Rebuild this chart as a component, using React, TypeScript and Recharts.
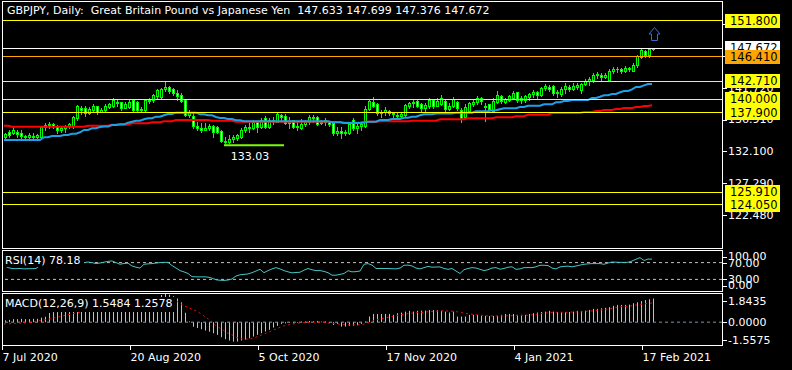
import React from "react";
import { ComposedChart, Bar, Line, XAxis, YAxis, ReferenceLine, ReferenceDot } from "recharts";

const FONT = "'DejaVu Sans', sans-serif";
const SLOTS = 180; // 163 bars + empty shift on the right

// ---- daily candles (GBPJPY) ----
const open = [
  134.2, 135.1, 134.9, 135.0, 134.9, 134.3, 134.3, 134.4, 134.3, 134.3,
  135.8, 136.1, 136.3, 135.9, 135.4, 135.6, 135.9, 135.9, 137.2, 138.7,
  138.7, 137.9, 138.4, 138.9, 138.1, 138.3, 138.8, 138.9, 139.6, 139.6,
  138.7, 138.8, 139.8, 139.5, 138.3, 138.3, 139.7, 139.8, 140.5, 140.3,
  141.5, 141.8, 141.6, 140.9, 140.6, 139.8, 137.6, 137.4, 135.9, 135.7,
  135.4, 135.6, 135.9, 135.8, 135.2, 133.7, 133.5, 134.0, 134.1, 134.3,
  135.4, 135.8, 135.7, 136.5, 135.8, 137.2, 135.8, 136.8, 136.6, 137.6,
  137.5, 136.4, 136.9, 135.8, 135.6, 136.3, 136.6, 137.1, 137.3, 136.4,
  136.6, 136.6, 136.4, 134.9, 135.2, 134.9, 134.9, 136.8, 135.6, 136.0,
  136.0, 138.5, 139.5, 139.3, 137.9, 138.1, 138.2, 137.9, 137.6, 137.4,
  137.6, 139.0, 139.4, 139.7, 139.3, 138.6, 138.9, 139.8, 138.9, 139.3,
  139.7, 138.5, 138.9, 139.6, 138.4, 137.3, 138.2, 139.3, 139.5, 140.1,
  139.0, 139.2, 138.2, 139.6, 140.5, 139.6, 139.8, 140.2, 141.0, 139.8,
  139.9, 140.3, 140.7, 141.1, 140.6, 141.7, 141.9, 142.0, 140.9, 140.8,
  141.5, 141.9, 141.6, 141.9, 141.3, 142.3, 142.7, 142.9, 143.6, 143.7,
  143.3, 142.9, 144.3, 144.6, 144.5, 144.3, 144.6, 144.3, 145.1, 146.3,
  147.3, 146.6, 147.633,
];
const high = [
  134.9, 135.4, 135.8, 135.3, 135.3, 134.6, 134.9, 134.9, 134.8, 135.9,
  136.4, 136.6, 136.4, 136.1, 135.8, 136.1, 136.4, 137.4, 139.1, 138.9,
  138.9, 138.8, 139.3, 138.9, 138.6, 139.3, 139.4, 140.1, 139.9, 139.6,
  139.5, 140.0, 139.9, 139.7, 138.8, 139.9, 140.1, 140.8, 141.5, 141.7,
  142.71, 142.0, 141.7, 141.3, 140.9, 139.9, 138.3, 137.9, 136.5, 136.4,
  136.4, 136.3, 136.1, 135.9, 135.3, 134.3, 134.6, 134.5, 134.7, 135.6,
  136.1, 136.4, 136.9, 136.5, 137.1, 137.4, 137.1, 137.3, 137.9, 137.7,
  137.7, 137.3, 136.9, 136.5, 137.0, 136.8, 137.6, 137.6, 137.4, 136.9,
  137.1, 136.7, 136.5, 135.8, 135.8, 135.3, 136.4, 137.2, 136.3, 136.6,
  138.9, 139.9, 140.3, 139.4, 138.4, 138.8, 138.4, 138.1, 137.9, 138.0,
  139.2, 139.6, 139.9, 139.8, 139.4, 139.4, 140.1, 140.0, 140.1, 140.6,
  139.8, 139.4, 140.3, 139.7, 138.6, 139.2, 139.6, 139.9, 140.5, 140.3,
  139.4, 139.3, 140.1, 141.2, 140.6, 140.2, 140.6, 141.2, 141.1, 140.4,
  140.6, 140.9, 141.3, 141.2, 141.8, 142.3, 142.2, 142.1, 141.4, 141.8,
  142.4, 142.2, 142.4, 142.4, 142.5, 143.0, 143.3, 143.9, 144.1, 143.9,
  143.9, 144.5, 144.9, 144.9, 144.7, 145.0, 144.9, 145.4, 146.7, 147.6,
  147.4, 147.7, 147.699,
];
const low = [
  133.9, 134.2, 134.8, 134.2, 134.1, 133.8, 134.0, 133.9, 134.1, 134.1,
  135.4, 135.6, 135.6, 134.9, 135.0, 135.1, 135.6, 135.7, 136.8, 137.8,
  137.5, 137.8, 138.1, 137.7, 138.0, 138.1, 138.6, 138.8, 138.9, 138.4,
  138.6, 138.6, 138.2, 138.0, 138.0, 138.1, 139.4, 139.5, 140.1, 140.1,
  141.2, 140.9, 140.6, 139.9, 139.5, 137.4, 137.3, 135.6, 135.3, 135.0,
  135.3, 135.3, 134.3, 134.9, 133.5, 133.03, 133.3, 133.5, 133.8, 134.1,
  135.0, 135.1, 135.5, 135.0, 135.7, 135.6, 135.6, 136.3, 136.5, 136.9,
  136.2, 135.6, 135.6, 135.3, 135.5, 136.0, 136.3, 136.5, 136.1, 136.2,
  136.1, 136.0, 134.6, 134.6, 134.1, 134.5, 134.8, 135.3, 134.9, 135.3,
  135.8, 138.4, 138.8, 137.6, 137.3, 137.6, 137.6, 137.3, 137.1, 137.3,
  137.5, 138.7, 138.8, 138.8, 138.2, 138.1, 138.6, 138.6, 138.9, 139.1,
  138.0, 138.3, 138.8, 138.3, 136.5, 137.2, 138.0, 139.0, 139.3, 139.2,
  136.7, 138.3, 138.0, 139.4, 139.4, 139.4, 139.7, 140.1, 139.5, 139.4,
  139.5, 139.8, 140.3, 140.2, 140.5, 141.4, 141.2, 140.6, 140.3, 140.4,
  140.9, 141.2, 141.3, 141.5, 140.9, 142.1, 142.1, 142.6, 143.2, 142.9,
  143.2, 142.7, 143.9, 144.1, 143.9, 144.1, 144.3, 144.2, 144.9, 146.2,
  146.4, 146.4, 147.376,
];
const close = [
  134.7, 134.5, 135.3, 134.7, 134.4, 134.4, 134.5, 134.3, 134.6, 135.8,
  136.1, 136.3, 135.9, 135.4, 135.6, 135.9, 136.2, 137.3, 138.9, 138.3,
  137.9, 138.5, 138.9, 138.1, 138.4, 139.0, 139.2, 139.8, 139.4, 138.6,
  139.2, 139.5, 138.4, 138.3, 138.5, 139.8, 139.9, 140.6, 141.3, 141.5,
  141.9, 141.2, 140.9, 140.4, 139.7, 137.6, 138.0, 135.9, 135.7, 135.4,
  135.6, 136.0, 135.1, 135.0, 133.7, 133.5, 134.0, 134.2, 134.5, 135.4,
  135.8, 135.7, 136.5, 135.8, 136.9, 135.8, 136.8, 136.9, 137.7, 137.3,
  136.4, 136.7, 135.8, 136.0, 136.3, 136.6, 137.3, 137.3, 136.3, 136.6,
  136.8, 136.3, 134.9, 135.2, 134.9, 135.1, 136.2, 135.6, 136.0, 136.3,
  138.5, 139.7, 139.0, 137.9, 138.1, 138.4, 137.9, 137.7, 137.4, 137.8,
  139.1, 139.4, 139.6, 139.0, 138.6, 139.1, 139.8, 138.9, 139.7, 140.1,
  138.5, 139.0, 140.0, 138.6, 137.2, 138.8, 139.4, 139.6, 140.2, 139.7,
  138.8, 138.5, 139.7, 140.6, 139.7, 140.0, 140.4, 140.9, 139.8, 140.1,
  140.4, 140.7, 141.1, 140.6, 141.7, 142.0, 141.5, 140.9, 141.1, 141.5,
  142.0, 141.6, 142.0, 142.2, 142.3, 142.7, 143.0, 143.6, 143.8, 143.3,
  143.6, 144.3, 144.6, 144.5, 144.3, 144.7, 144.7, 145.2, 146.5, 147.4,
  146.7, 147.6, 147.672,
];

// ---- moving averages (blue / red) ----
const maFast = [
  133.82, 133.82, 133.82, 133.82, 133.82, 133.82, 133.82, 133.82, 133.82, 133.82,
  134.23, 134.23, 134.43, 134.43, 134.43, 134.58, 134.58, 134.77, 134.77, 134.98,
  135.33, 135.33, 135.59, 135.59, 135.78, 135.86, 135.86, 136.09, 136.09, 136.19,
  136.19, 136.43, 136.58, 136.74, 136.74, 136.95, 137.10, 137.10, 137.34, 137.34,
  137.55, 137.75, 137.75, 137.95, 137.95, 137.95, 137.95, 137.95, 137.95, 137.70,
  137.70, 137.55, 137.55, 137.30, 137.14, 137.14, 136.99, 136.99, 136.80, 136.80,
  136.65, 136.65, 136.65, 136.65, 136.65, 136.65, 136.65, 136.65, 136.65, 136.65,
  136.65, 136.65, 136.65, 136.65, 136.65, 136.65, 136.65, 136.65, 136.65, 136.65,
  136.65, 136.65, 136.49, 136.49, 136.49, 136.39, 136.39, 136.39, 136.39, 136.39,
  136.46, 136.58, 136.58, 136.58, 136.84, 136.84, 136.84, 136.99, 136.99, 136.99,
  137.19, 137.19, 137.34, 137.34, 137.55, 137.70, 137.70, 137.70, 137.82, 137.82,
  137.82, 137.82, 137.82, 137.95, 137.95, 137.95, 137.95, 137.95, 138.16, 138.16,
  138.16, 138.16, 138.31, 138.31, 138.46, 138.61, 138.61, 138.61, 138.61, 138.81,
  138.81, 139.00, 139.00, 139.00, 139.00, 139.21, 139.21, 139.21, 139.52, 139.52,
  139.71, 139.71, 139.86, 139.86, 139.86, 139.86, 139.86, 140.17, 140.17, 140.36,
  140.57, 140.57, 140.77, 140.77, 141.03, 141.22, 141.22, 141.48, 141.83, 141.83,
  142.08, 142.28, 142.28,
];
const maSlow = [
  135.98, 135.98, 135.83, 135.83, 135.83, 135.83, 135.83, 135.83, 135.83, 135.83,
  135.83, 135.83, 135.83, 135.83, 135.83, 135.83, 135.83, 135.83, 135.83, 135.83,
  135.83, 135.98, 135.98, 135.98, 135.98, 135.98, 135.98, 136.13, 136.13, 136.13,
  136.13, 136.13, 136.34, 136.34, 136.34, 136.34, 136.34, 136.49, 136.49, 136.49,
  136.65, 136.65, 136.65, 136.84, 136.84, 136.84, 136.84, 136.84, 136.84, 136.84,
  136.84, 136.84, 136.74, 136.74, 136.74, 136.74, 136.74, 136.74, 136.59, 136.59,
  136.59, 136.59, 136.59, 136.59, 136.59, 136.59, 136.59, 136.59, 136.59, 136.59,
  136.59, 136.59, 136.59, 136.59, 136.59, 136.59, 136.59, 136.59, 136.59, 136.59,
  136.59, 136.59, 136.54, 136.54, 136.54, 136.43, 136.43, 136.43, 136.43, 136.43,
  136.59, 136.59, 136.59, 136.59, 136.65, 136.65, 136.65, 136.65, 136.65, 136.65,
  136.65, 136.65, 136.74, 136.74, 136.74, 136.74, 136.74, 136.74, 136.74, 136.95,
  136.95, 136.95, 136.95, 136.95, 136.95, 136.95, 137.10, 137.10, 137.10, 137.10,
  137.10, 137.10, 137.10, 137.25, 137.25, 137.25, 137.25, 137.25, 137.40, 137.40,
  137.40, 137.65, 137.65, 137.65, 137.65, 137.65, 137.65, 137.90, 137.90, 137.90,
  137.90, 137.90, 137.90, 137.90, 137.90, 138.05, 138.05, 138.05, 138.20, 138.20,
  138.35, 138.35, 138.35, 138.50, 138.50, 138.66, 138.66, 138.66, 138.81, 138.81,
  138.96, 138.96, 139.06,
];

// ---- RSI(14) ----
const rsi = [
  63.6, 58, 56, 55.5, 56, 55, 55.5, 55.5, 56, 63,
  67, 69, 66, 60, 62, 64, 66, 72, 78, 74,
  70, 71.4, 70, 67.6, 69, 71, 73, 74, 70, 66,
  68, 68.5, 62, 59, 57, 66, 67, 67.6, 69, 70,
  70.7, 70.5, 63, 57, 51, 47.9, 44, 36.5, 36.1, 36,
  36.2, 35.4, 33, 29, 28, 27.6, 28.5, 31, 38, 41,
  42, 43, 46, 50, 54, 46, 51, 55, 58, 55,
  51, 48, 45.6, 46.5, 47, 52, 55.9, 53, 51, 51,
  49, 46, 40, 40, 42, 44, 50.7, 48, 48.5, 50,
  66, 67.6, 64, 56, 56, 56, 55.9, 55.5, 55, 57,
  63.6, 64, 62, 57, 55, 58, 61, 59, 59.5, 59.7,
  56, 54, 55.9, 50, 44.1, 53, 56, 58, 57, 54,
  51, 53, 57, 58, 54.2, 56, 59, 60, 54, 55,
  58, 58, 58, 60, 63.6, 63.6, 63, 57, 55, 59.7,
  61, 61.5, 60, 62, 64, 66, 67, 67.6, 67.6, 67.6,
  66, 69, 71.4, 71, 70.5, 70.5, 70.7, 73.8, 78, 81.8,
  75, 78.5, 78.18,
];

// ---- MACD(12,26,9): main (histogram) and signal ----
const macd = [
  0.12, 0.15, 0.2, 0.2, 0.22, 0.2, 0.2, 0.22, 0.22, 0.3,
  0.35, 0.6, 0.66, 0.66, 0.68, 0.7, 0.75, 0.95, 1.25, 1.35,
  1.38, 1.42, 1.48, 1.45, 1.45, 1.5, 1.55, 1.62, 1.64, 1.55,
  1.52, 1.52, 1.4, 1.28, 1.2, 1.3, 1.38, 1.5, 1.65, 1.78,
  1.8435, 1.8, 1.7, 1.55, 1.3, 0.62, 0.05, -0.3, -0.38, -0.46,
  -0.55, -0.62, -0.72, -0.83, -0.98, -1.11, -1.2, -1.27, -1.27, -1.2,
  -1.14, -1.05, -0.94, -0.83, -0.72, -0.61, -0.5, -0.35, -0.24, -0.11,
  -0.08, -0.04, -0.08, -0.04, 0.04, 0.04, 0.08, 0.06, 0.08, 0.04,
  0.04, -0.06, -0.18, -0.11, -0.29, -0.29, -0.24, -0.24, -0.2, -0.11,
  0.04, 0.37, 0.54, 0.54, 0.54, 0.54, 0.54, 0.48, 0.59, 0.63,
  0.69, 0.74, 0.69, 0.74, 0.76, 0.76, 0.8, 0.8, 0.78, 0.74,
  0.69, 0.63, 0.69, 0.37, 0.37, 0.37, 0.48, 0.48, 0.48, 0.41,
  0.41, 0.41, 0.41, 0.41, 0.48, 0.54, 0.54, 0.54, 0.48, 0.48,
  0.48, 0.54, 0.59, 0.63, 0.67, 0.69, 0.74, 0.69, 0.67, 0.65,
  0.65, 0.67, 0.69, 0.74, 0.74, 0.76, 0.8, 0.87, 0.87, 0.91,
  0.94, 0.98, 1.07, 1.13, 1.13, 1.13, 1.15, 1.24, 1.3, 1.38,
  1.45, 1.5, 1.5484,
];
const signal = [
  -0.11, -0.1, -0.09, -0.07, -0.06, -0.05, -0.04, 0, 0.05, 0.11,
  0.15, 0.19, 0.25, 0.3, 0.37, 0.43, 0.49, 0.54, 0.6, 0.65,
  0.7, 0.74, 0.82, 0.9, 0.97, 1.03, 1.09, 1.15, 1.2, 1.25,
  1.29, 1.32, 1.34, 1.35, 1.34, 1.33, 1.34, 1.36, 1.39, 1.43,
  1.46, 1.48, 1.45, 1.38, 1.25, 1.07, 0.98, 0.85, 0.74, 0.59,
  0.41, 0.22, 0.04, -0.24, -0.39, -0.55, -0.72, -0.83, -0.98, -1.07,
  -1.11, -1.11, -1.07, -0.98, -0.87, -0.77, -0.68, -0.55, -0.44, -0.33,
  -0.24, -0.18, -0.13, -0.09, -0.05, -0.03, -0.02, -0.01, 0, 0,
  -0.02, -0.05, -0.08, -0.1, -0.13, -0.15, -0.17, -0.18, -0.18, -0.17,
  -0.13, -0.05, 0.05, 0.15, 0.2, 0.26, 0.31, 0.37, 0.42, 0.48,
  0.52, 0.56, 0.59, 0.62, 0.64, 0.65, 0.68, 0.7, 0.72, 0.74,
  0.74, 0.73, 0.72, 0.69, 0.65, 0.59, 0.55, 0.52, 0.48, 0.46,
  0.44, 0.41, 0.41, 0.41, 0.41, 0.41, 0.42, 0.43, 0.44, 0.44,
  0.45, 0.46, 0.48, 0.52, 0.55, 0.59, 0.61, 0.63, 0.65, 0.65,
  0.65, 0.65, 0.66, 0.67, 0.68, 0.69, 0.71, 0.74, 0.76, 0.79,
  0.83, 0.86, 0.9, 0.96, 1, 1.03, 1.05, 1.07, 1.12, 1.16,
  1.2, 1.23, 1.2578,
];

// ---- axes / labels ----
const dateLabels = ["7 Jul 2020", "20 Aug 2020", "5 Oct 2020", "17 Nov 2020", "4 Jan 2021", "17 Feb 2021"];
const dateLabelBars = [0, 32, 64, 96, 128, 160];
const priceTicks = [122.48, 127.29, 132.1, 136.91, 141.72, 146.53, 151.34];
const rsiTicks = [0, 30, 70, 100];
const macdTicks = [-1.5575, 0, 1.8435];

// ---- horizontal levels drawn on the chart ----
const levelPrices = [151.8, 147.672, 146.41, 142.71, 140.0, 137.9, 125.91, 124.05];
const levelColors = ["#FFFF00", "#FFFFFF", "#FFA500", "#FFFF00", "#FFFF00", "#FFFF00", "#FFFF00", "#FFFF00"];

const lowMark = { price: 133.03, fromBar: 55, toBar: 70 };
const arrowMark = { bar: 163, price: 150.06 };

const PRICE_DOMAIN: [number, number] = [117.5, 154.67];
const MACD_DOMAIN: [number, number] = [-1.5575, 1.8435];

const rows = Array.from({ length: SLOTS }, (_, i) => ({
  i,
  open: open[i] ?? null,
  high: high[i] ?? null,
  low: low[i] ?? null,
  close: close[i] ?? null,
  maFast: maFast[i] ?? null,
  maSlow: maSlow[i] ?? null,
  rsi: rsi[i] ?? null,
  macd: macd[i] ?? null,
  signal: signal[i] ?? null,
}));

function Candle(props: any) {
  const { x, y, width, height, payload } = props;
  if (!payload || payload.high == null) return null;
  const { open: o, high: h, low: l, close: c } = payload;
  const k = h > l ? height / (h - l) : 0;
  const cx = Math.round(x + width / 2);
  const py = (v: number) => Math.round(y + (h - v) * k) + 0.5;
  const top = py(h);
  const bot = py(l);
  const bTop = Math.min(py(o), py(c));
  const bBot = Math.max(py(o), py(c));
  const bull = c >= o;
  return (
    <g>
      <line x1={cx + 0.5} x2={cx + 0.5} y1={top - 0.5} y2={bot + 0.5} stroke="#00FF00" />
      {bBot - bTop >= 1 ? (
        <rect x={cx - 0.5} y={bTop} width={2} height={bBot - bTop} fill={bull ? "#000000" : "#FFFFFF"} stroke="#00FF00" />
      ) : (
        <line x1={cx - 1} x2={cx + 2} y1={bTop} y2={bTop} stroke="#00FF00" />
      )}
    </g>
  );
}

function HistBar(props: any) {
  const { x, y, width, height, payload } = props;
  if (!payload || payload.macd == null) return null;
  const cx = Math.round(x + width / 2) + 0.5;
  const y1 = Math.min(y, y + height);
  const y2 = Math.max(y, y + height);
  return <line x1={cx} x2={cx} y1={y1} y2={y2} stroke="#C0C0C0" />;
}

function PriceTick(props: any) {
  const { x, y, payload } = props;
  const ly = Math.round(y) + 0.5;
  return (
    <g>
      <line x1={x + 1} x2={x + 5} y1={ly} y2={ly} stroke="#FFFFFF" />
      <text x={x + 6} y={y} dy="0.36em" fill="#FFFFFF" fontSize={11} fontFamily={FONT}>
        {payload.value.toFixed(3)}
      </text>
    </g>
  );
}

function makePanelTick(digits: number, minY: number, maxY: number) {
  return function PanelTick(props: any) {
    const { x, y, payload } = props;
    const ty = Math.min(Math.max(y, minY), maxY);
    const ly = Math.round(ty) + 0.5;
    return (
      <g>
        <line x1={x + 1} x2={x + 5} y1={ly} y2={ly} stroke="#FFFFFF" />
        <text x={x + 6} y={ty} dy="0.36em" fill="#FFFFFF" fontSize={11} fontFamily={FONT}>
          {payload.value.toFixed(digits)}
        </text>
      </g>
    );
  };
}
const RsiTick = makePanelTick(2, 6.5, 35.5);
const MacdTick = makePanelTick(4, 7, 46);

function DateTick(props: any) {
  const { x, y, payload } = props;
  const k = dateLabelBars.indexOf(payload.value);
  const tx = Math.round(x) - 2 + 0.5;
  return (
    <g>
      <line x1={tx} x2={tx} y1={y} y2={y + 4} stroke="#FFFFFF" />
      <text x={tx} y={y + 15} fill="#FFFFFF" fontSize={11} fontFamily={FONT}>
        {dateLabels[k]}
      </text>
    </g>
  );
}

function LevelTag(props: any) {
  const { viewBox, text, bg } = props;
  if (!viewBox) return null;
  const ly = viewBox.y;
  const bx = viewBox.x + viewBox.width + 3;
  return (
    <g>
      <rect x={bx} y={Math.round(ly) - 7} width={55} height={14} fill={bg} />
      <text x={bx + 5} y={ly} dy="0.36em" fill="#000000" fontSize={11.5} fontFamily={FONT}>
        {text}
      </text>
    </g>
  );
}

function LowTag(props: any) {
  const { viewBox } = props;
  if (!viewBox) return null;
  return (
    <text x={viewBox.x + viewBox.width / 2 - 4} y={viewBox.y + 14.5} textAnchor="middle" fill="#FFFFFF" fontSize={11} fontFamily={FONT}>
      {lowMark.price.toFixed(2)}
    </text>
  );
}

function UpArrow(props: any) {
  const { cx, cy } = props;
  const x = Math.round(cx) - 2 + 0.5;
  const y = Math.round(cy) + 0.5;
  const d = `M${x},${y - 6} L${x + 5.5},${y + 0.5} L${x + 3},${y + 0.5} L${x + 3},${y + 7} L${x - 3},${y + 7} L${x - 3},${y + 0.5} L${x - 5.5},${y + 0.5} Z`;
  return <path d={d} fill="none" stroke="#2F6FD6" strokeWidth={1} />;
}

const abs = (left: number, top: number, w: number, h: number): React.CSSProperties => ({
  position: "absolute", left, top, width: w, height: h,
});

export default function App() {
  return (
    <div style={{ position: "fixed", left: 0, top: 0, width: 792, height: 370, background: "#000000", overflow: "hidden" }}>
      {/* main price window */}
      <div style={abs(0, 0, 792, 248)}>
        <ComposedChart width={792} height={248} data={rows} margin={{ top: 2, right: 0, bottom: 0, left: 2 }}>
          <XAxis dataKey="i" type="category" scale="band" hide />
          <YAxis
            orientation="right" width={70} domain={PRICE_DOMAIN} allowDataOverflow
            ticks={priceTicks} interval={0} tickSize={0} tickMargin={0} axisLine={false} tick={<PriceTick />}
          />
          <Line dataKey="maSlow" stroke="#FF0000" strokeWidth={2} dot={false} activeDot={false} isAnimationActive={false} />
          <Line dataKey="maFast" stroke="#1EA0E6" strokeWidth={2} dot={false} activeDot={false} isAnimationActive={false} />
          <Bar dataKey={(d: any) => (d.high == null ? null : [d.low, d.high])} barSize={3} shape={<Candle />} isAnimationActive={false} />
        </ComposedChart>
      </div>

      {/* objects drawn over the price window */}
      <div style={abs(0, 0, 792, 248)}>
        <ComposedChart width={792} height={248} data={rows} margin={{ top: 2, right: 70, bottom: 0, left: 2 }}>
          <XAxis dataKey="i" type="category" scale="band" hide />
          <YAxis hide domain={PRICE_DOMAIN} allowDataOverflow />
          {levelPrices.map((p, k) => (
            <ReferenceLine
              key={p} y={p} stroke={levelColors[k]} strokeWidth={1} shapeRendering="crispEdges"
              label={<LevelTag text={p.toFixed(3)} bg={levelColors[k]} />}
            />
          ))}
          <ReferenceLine
            segment={[{ x: lowMark.fromBar, y: lowMark.price }, { x: lowMark.toBar, y: lowMark.price }]}
            stroke="#7CFC00" strokeWidth={2} label={<LowTag />}
          />
          <ReferenceDot x={arrowMark.bar} y={arrowMark.price} shape={<UpArrow />} />
        </ComposedChart>
      </div>

      {/* RSI window */}
      <div style={abs(0, 250, 792, 42)}>
        <ComposedChart width={792} height={42} data={rows} margin={{ top: 0, right: 0, bottom: 0, left: 2 }}>
          <XAxis dataKey="i" type="category" scale="band" hide />
          <YAxis
            orientation="right" width={70} domain={[0, 100]} allowDataOverflow
            ticks={rsiTicks} interval={0} tickSize={0} tickMargin={0} axisLine={false} tick={<RsiTick />}
          />
          <ReferenceLine y={70} stroke="#C0C0C0" strokeDasharray="3 3" />
          <ReferenceLine y={30} stroke="#C0C0C0" strokeDasharray="3 3" />
          <Line dataKey="rsi" stroke="#45C6C6" strokeWidth={1} dot={false} activeDot={false} isAnimationActive={false} />
        </ComposedChart>
      </div>

      {/* MACD window + date axis */}
      <div style={abs(0, 294, 792, 76)}>
        <ComposedChart width={792} height={76} data={rows} margin={{ top: 0, right: 0, bottom: 0, left: 2 }}>
          <XAxis
            dataKey="i" type="category" scale="band" height={24} ticks={dateLabelBars} interval={0}
            tickSize={0} tickMargin={0} axisLine={false} tick={<DateTick />}
          />
          <YAxis
            orientation="right" width={70} domain={MACD_DOMAIN} allowDataOverflow
            ticks={macdTicks} interval={0} tickSize={0} tickMargin={0} axisLine={false} tick={<MacdTick />}
          />
          <ReferenceLine y={0} stroke="#8494A8" strokeDasharray="3 3" />
          <Bar dataKey="macd" barSize={1} shape={<HistBar />} isAnimationActive={false} />
          <Line dataKey="signal" stroke="#FF0000" strokeWidth={1} strokeDasharray="2 3" dot={false} activeDot={false} isAnimationActive={false} />
        </ComposedChart>
      </div>

      {/* window frames */}
      <div style={{ ...abs(2, 1, 721, 248), border: "1px solid #FFFFFF", boxSizing: "border-box" }} />
      <div style={{ ...abs(2, 250, 721, 42), border: "1px solid #FFFFFF", boxSizing: "border-box" }} />
      <div style={{ ...abs(2, 293, 721, 53), border: "1px solid #FFFFFF", boxSizing: "border-box" }} />

      {/* texts */}
      <div style={{ position: "absolute", left: 7, top: 4, color: "#FFFFFF", font: `11px ${FONT}`, lineHeight: "13px", whiteSpace: "pre" }}>
        {"GBPJPY, Daily:  Great Britain Pound vs Japanese Yen  147.633 147.699 147.376 147.672"}
      </div>
      <div style={{ position: "absolute", left: 4, top: 254, color: "#FFFFFF", background: "#000000", font: `11px ${FONT}`, lineHeight: "13px", padding: "0 4px 0 1px", whiteSpace: "pre" }}>
        {"RSI(14) 78.18"}
      </div>
      <div style={{ position: "absolute", left: 4, top: 297, color: "#FFFFFF", background: "#000000", font: `11px ${FONT}`, lineHeight: "13px", padding: "0 4px 2px 1px", whiteSpace: "pre" }}>
        {"MACD(12,26,9) 1.5484 1.2578"}
      </div>
    </div>
  );
}
